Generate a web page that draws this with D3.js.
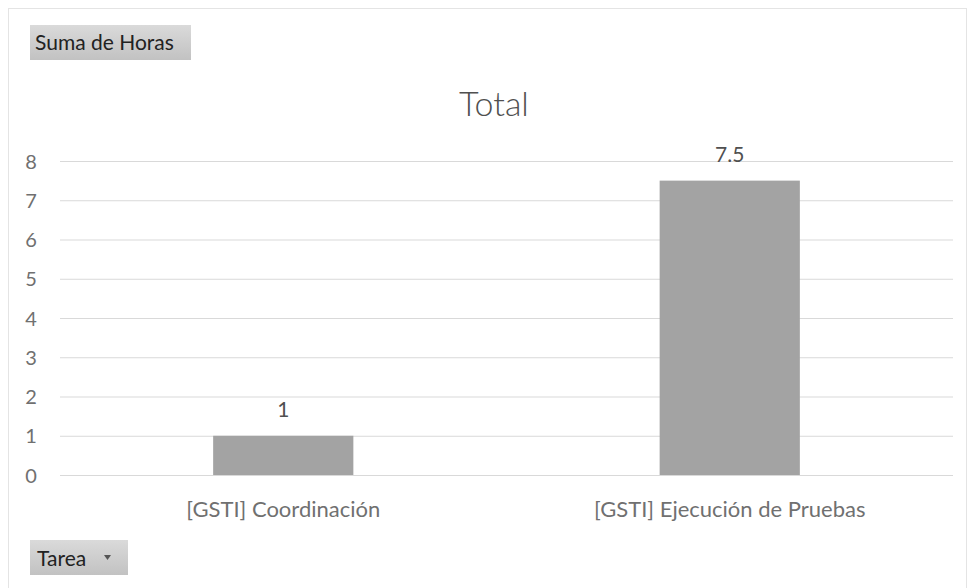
<!DOCTYPE html>
<html><head><meta charset="utf-8">
<script src="https://cdn.jsdelivr.net/npm/d3@7"></script>
<style>body{margin:0;background:#fff}</style>
</head><body>
<svg id="c" width="970" height="588"></svg>
<script>
const categories = ["[GSTI] Coordinación", "[GSTI] Ejecución de Pruebas"];
const values = [1, 7.5];
const yTicks = [0, 1, 2, 3, 4, 5, 6, 7, 8];
const titleText = "Total";
const fieldButton = "Suma de Horas";
const axisButton = "Tarea";

const svg = d3.select("#c");
const font = "Lato, 'Open Sans', sans-serif";
const defs = svg.append("defs");
const g1 = defs.append("linearGradient").attr("id","btn").attr("x1",0).attr("x2",0).attr("y1",0).attr("y2",1);
g1.append("stop").attr("offset","0%").attr("stop-color","#dadada");
g1.append("stop").attr("offset","100%").attr("stop-color","#c2c2c2");

// outer dotted border
svg.append("rect").attr("x",8.5).attr("y",8.5).attr("width",958).attr("height",600)
  .attr("fill","none").attr("stroke","#c8c8c8").attr("stroke-dasharray","1,1");

const x = d3.scaleBand().domain(categories).range([60, 953]).paddingInner(0.686).paddingOuter(0.343);
const y = d3.scaleLinear().domain([0, 8]).range([475, 161]);

// gridlines
svg.append("g").selectAll("line").data(yTicks).join("line")
  .attr("x1",60).attr("x2",953).attr("y1",d=>y(d)+0.5).attr("y2",d=>y(d)+0.5)
  .attr("stroke","#d9d9d9").attr("stroke-width",1);

// y axis labels
const ya = svg.append("g").attr("transform","translate(31,0)")
  .call(d3.axisLeft(y).tickValues(yTicks).tickSize(0).tickPadding(0));
ya.select(".domain").remove();
ya.selectAll("text").attr("font-family",font).attr("font-size",20).attr("fill","#707070").attr("text-anchor","middle").attr("x",0).attr("dy","0.36em");

// bars
svg.append("g").selectAll("rect").data(values).join("rect")
  .attr("x",(d,i)=>x(categories[i])).attr("width",x.bandwidth())
  .attr("y",d=>y(d)).attr("height",d=>y(0)-y(d)).attr("fill","#a3a3a3");

// value labels
svg.append("g").selectAll("text").data(values).join("text")
  .attr("x",(d,i)=>x(categories[i])+x.bandwidth()/2).attr("y",d=>y(d)-19)
  .attr("text-anchor","middle").attr("font-family",font).attr("font-size",21).attr("fill","#505050")
  .text(d=>d);

// x axis labels
const xa = svg.append("g").attr("transform","translate(0,475)")
  .call(d3.axisBottom(x).tickSize(0).tickPadding(0));
xa.select(".domain").remove();
xa.selectAll("text").attr("font-family",font).attr("font-size",22).attr("fill","#707070").attr("dy",0).attr("y",42);

// title
svg.append("text").attr("x",494).attr("y",116).attr("text-anchor","middle")
  .attr("font-family",font).attr("font-size",34).attr("font-weight",300).attr("fill","#505050").text(titleText);

// field buttons
svg.append("rect").attr("x",30).attr("y",25).attr("width",161).attr("height",35).attr("fill","url(#btn)");
svg.append("text").attr("x",35).attr("y",50).attr("font-family",font).attr("font-size",21).attr("fill","#222").text(fieldButton);

svg.append("rect").attr("x",30).attr("y",540).attr("width",98).attr("height",35).attr("fill","url(#btn)");
svg.append("text").attr("x",37).attr("y",566).attr("font-family",font).attr("font-size",21).attr("fill","#222").text(axisButton);
svg.append("path").attr("d","M104,555 L111,555 L107.5,560 Z").attr("fill","#555");
</script>
</body></html>
